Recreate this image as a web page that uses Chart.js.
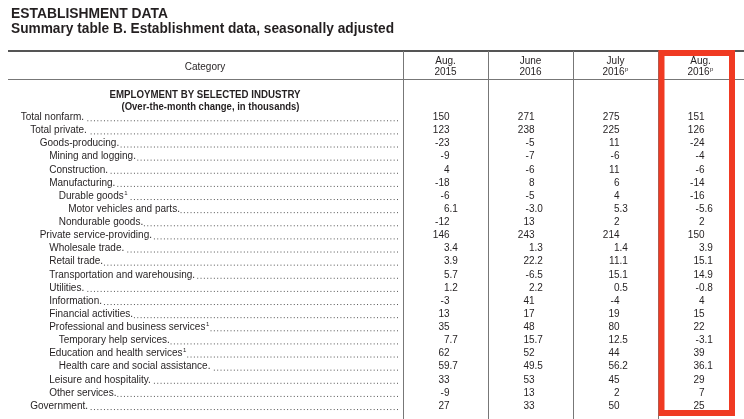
<!DOCTYPE html>
<html>
<head>
<meta charset="utf-8">
<script src="https://cdn.jsdelivr.net/npm/chart.js@4"></script>
<style>
  html, body { margin: 0; padding: 0; background: #fff; }
  #wrap { position: relative; width: 744px; height: 419px; }
</style>
</head>
<body>
<div id="wrap"><canvas id="tabla"></canvas></div>
<script>
// Datos de la tabla
const titulo = 'ESTABLISHMENT DATA';
const subtitulo = 'Summary table B. Establishment data, seasonally adjusted';
const seccion = 'EMPLOYMENT BY SELECTED INDUSTRY';
const unidades = '(Over-the-month change, in thousands)';

const categorias = [
    'Total nonfarm', 'Total private', 'Goods-producing', 'Mining and logging',
    'Construction', 'Manufacturing', 'Durable goods', 'Motor vehicles and parts',
    'Nondurable goods', 'Private service-providing', 'Wholesale trade', 'Retail trade',
    'Transportation and warehousing', 'Utilities', 'Information', 'Financial activities',
    'Professional and business services', 'Temporary help services',
    'Education and health services', 'Health care and social assistance',
    'Leisure and hospitality', 'Other services', 'Government'
];
const niveles = [0, 1, 2, 3, 3, 3, 4, 5, 4, 2, 3, 3, 3, 3, 3, 3, 3, 4, 3, 4, 3, 3, 1];
const notas = [6, 16, 18];              // filas con superíndice 1
const filasDecimales = [7, 10, 11, 12, 13, 17, 19];

const columnas = [['Aug.', '2015', ''], ['June', '2016', ''], ['July', '2016', 'p'], ['Aug.', '2016', 'p']];

const aug2015 = [150, 123, -23, -9, 4, -18, -6, 6.1, -12, 146, 3.4, 3.9, 5.7, 1.2, -3, 13, 35, 7.7, 62, 59.7, 33, -9, 27];
const jun2016 = [271, 238, -5, -7, -6, 8, -5, -3.0, 13, 243, 1.3, 22.2, -6.5, 2.2, 41, 17, 48, 15.7, 52, 49.5, 53, 13, 33];
const jul2016 = [275, 225, 11, -6, 11, 6, 4, 5.3, 2, 214, 1.4, 11.1, 15.1, 0.5, -4, 19, 80, 12.5, 44, 56.2, 45, 2, 50];
const aug2016 = [151, 126, -24, -4, -6, -14, -16, -5.6, 2, 150, 3.9, 15.1, 14.9, -0.8, 4, 15, 22, -3.1, 39, 36.1, 29, 7, 25];

const series = [aug2015, jun2016, jul2016, aug2016];

const FUENTE = '"Liberation Sans", Arial, Helvetica, sans-serif';
const TEXTO = '#231f20';

// Plugin que dibuja la tabla usando las escalas del gráfico
const tablaPlugin = {
    id: 'tabla',
    afterDraw(chart) {
        const ctx = chart.ctx;
        const xs = chart.scales.x;
        const ys = chart.scales.y;
        const W = chart.width, H = chart.height;
        ctx.save();
        ctx.fillStyle = TEXTO;

        // Títulos
        ctx.textBaseline = 'alphabetic';
        ctx.textAlign = 'left';
        ctx.font = 'bold 14px ' + FUENTE;
        ctx.fillText(titulo, 11, 18, 157);
        ctx.fillText(subtitulo, 11, 33, 383);

        // Líneas
        ctx.strokeStyle = '#555';
        ctx.lineWidth = 2;
        ctx.beginPath(); ctx.moveTo(8, 51); ctx.lineTo(W, 51); ctx.stroke();
        ctx.strokeStyle = '#777';
        ctx.lineWidth = 1;
        ctx.beginPath(); ctx.moveTo(8, 79.5); ctx.lineTo(W, 79.5); ctx.stroke();
        for (let c = 0; c < columnas.length; c++) {
            const x = Math.round(xs.getPixelForValue(c)) + 0.5;
            ctx.beginPath(); ctx.moveTo(x, 51); ctx.lineTo(x, H); ctx.stroke();
        }

        // Encabezados
        ctx.textBaseline = 'middle';
        ctx.font = '10px ' + FUENTE;
        ctx.textAlign = 'center';
        ctx.fillText('Category', 205, 67);
        columnas.forEach((col, c) => {
            const cx = xs.getPixelForValue(c + 0.5);
            ctx.font = '10px ' + FUENTE;
            ctx.textAlign = 'center';
            ctx.fillText(col[0], cx, 61);
            const w = ctx.measureText(col[1]).width;
            const sup = col[2] ? 4 : 0;
            ctx.textAlign = 'left';
            ctx.fillText(col[1], cx - (w + sup) / 2, 72);
            if (col[2]) {
                ctx.font = '6px ' + FUENTE;
                ctx.fillText(col[2], cx - (w + sup) / 2 + w + 0.5, 69);
            }
        });

        ctx.textAlign = 'center';
        ctx.font = 'bold 10px ' + FUENTE;
        ctx.fillText(seccion, 205, 95, 191);
        ctx.fillText(unidades, 210.5, 107, 178);

        // Categorías con puntos guía
        categorias.forEach((nombre, i) => {
            const y = ys.getPixelForValue(i);
            const x0 = 20.7 + niveles[i] * 9.5;
            ctx.fillStyle = TEXTO;
            ctx.font = '10px ' + FUENTE;
            ctx.textAlign = 'left';
            ctx.fillText(nombre + '.', x0, y);
            let fin = x0 + ctx.measureText(nombre + '.').width;
            if (notas.includes(i)) {
                const wn = ctx.measureText(nombre).width;
                ctx.fillStyle = '#fff';
                ctx.fillRect(x0 + wn, y - 6, 8, 12);
                ctx.fillStyle = TEXTO;
                ctx.font = '6px ' + FUENTE;
                ctx.fillText('1', x0 + wn + 0.5, y - 3);
                fin = x0 + wn + 4;
            }
            ctx.fillStyle = '#555';
            for (let px = 397.5; px > fin + 1; px -= 3.33) {
                ctx.fillRect(px - 0.5, y + 3, 1, 1);
            }
        });

        // Valores, alineados en el punto decimal
        ctx.fillStyle = TEXTO;
        ctx.font = '10px ' + FUENTE;
        chart.data.datasets.forEach((ds, c) => {
            const meta = chart.getDatasetMeta(c);
            meta.data.forEach((pt, i) => {
                const v = ds.data[i].v;
                const txt = filasDecimales.includes(i) ? v.toFixed(1) : String(v);
                const partes = txt.split('.');
                const xr = pt.x + 4;
                ctx.textAlign = 'right';
                ctx.fillText(partes[0], xr, pt.y);
                if (partes[1] !== undefined) {
                    ctx.textAlign = 'left';
                    ctx.fillText('.' + partes[1], xr, pt.y);
                }
            });
        });

        // Recuadro rojo en la última columna
        ctx.strokeStyle = '#f03a22';
        ctx.lineWidth = 6;
        ctx.strokeRect(661.5, 53, 70.5, 360);
        ctx.restore();
    }
};

new Chart(document.getElementById('tabla'), {
    type: 'scatter',
    data: {
        datasets: series.map((valores, c) => ({
            label: columnas[c].join(' '),
            data: valores.map((v, i) => ({ x: c + 0.5, y: i, v: v })),
            pointRadius: 0,
            pointHoverRadius: 0
        }))
    },
    options: {
        responsive: true,
        maintainAspectRatio: false,
        animation: false,
        events: [],
        layout: { padding: { left: 403, right: 1, top: 110.7, bottom: 6.4 } },
        plugins: { legend: { display: false }, tooltip: { enabled: false } },
        scales: {
            x: { type: 'linear', min: 0, max: 4, display: false },
            y: { type: 'linear', min: -0.5, max: 22.5, reverse: true, display: false }
        }
    },
    plugins: [tablaPlugin]
});
</script>
</body>
</html>
